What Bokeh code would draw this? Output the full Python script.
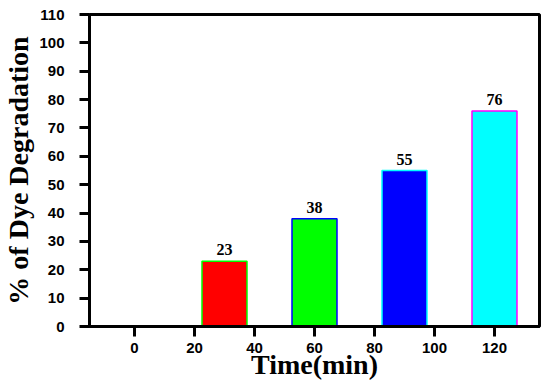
from bokeh.plotting import figure
from bokeh.models import ColumnDataSource, Range1d, FixedTicker, LabelSet
from bokeh.embed import file_html
from bokeh.resources import INLINE

times = [30, 60, 90, 120]
degradation = [23, 38, 55, 76]
labels = ["23", "38", "55", "76"]
fill_colors = ["#ff0000", "#00ff00", "#0000ff", "#00ffff"]
edge_colors = ["#00ff00", "#0000ff", "#00ffff", "#ff00ff"]
x_ticks = [0, 20, 40, 60, 80, 100, 120]
y_ticks = [0, 10, 20, 30, 40, 50, 60, 70, 80, 90, 100, 110]
x_title = "Time(min)"
y_title = "% of Dye Degradation"

src = ColumnDataSource(dict(x=times, top=degradation, lab=labels,
                            fill=fill_colors, edge=edge_colors))

p = figure(width=542, height=383, output_backend="svg", toolbar_location=None,
           x_range=Range1d(-15, 135), y_range=Range1d(0, 110),
           min_border_left=87, min_border_right=3, min_border_top=14, min_border_bottom=57)

p.vbar(x="x", top="top", bottom=0, width=15, source=src,
       fill_color="fill", line_color="edge", line_width=1.5)

p.add_layout(LabelSet(x="x", y="top", text="lab", source=src, text_align="center",
                      text_baseline="bottom", y_offset=6, text_font="Liberation Serif",
                      text_font_style="bold", text_font_size="16px", text_color="black"))

p.grid.visible = False
p.outline_line_color = "black"
p.outline_line_width = 3
p.outline_line_alpha = 1

for ax in (p.xaxis[0], p.yaxis[0]):
    ax.axis_line_width = 3
    ax.major_tick_line_width = 3
    ax.major_tick_out = 10
    ax.major_tick_in = 0
    ax.minor_tick_line_color = None
    ax.major_label_text_font = "Liberation Sans"
    ax.major_label_text_font_style = "bold"
    ax.major_label_text_font_size = "15px"
    ax.major_label_text_color = "black"
    ax.axis_label_text_font = "Liberation Serif"
    ax.axis_label_text_font_style = "bold"
    ax.axis_label_text_color = "black"

p.xaxis[0].ticker = FixedTicker(ticks=x_ticks)
p.yaxis[0].ticker = FixedTicker(ticks=y_ticks)
p.xaxis[0].axis_label = x_title
p.yaxis[0].axis_label = y_title
p.xaxis[0].axis_label_text_font_size = "28px"
p.yaxis[0].axis_label_text_font_size = "28px"
p.xaxis[0].major_label_standoff = 6
p.yaxis[0].major_label_standoff = 15
p.xaxis[0].axis_label_standoff = -7
p.yaxis[0].axis_label_standoff = 2

open("out.html", "w").write(file_html(p, INLINE))
